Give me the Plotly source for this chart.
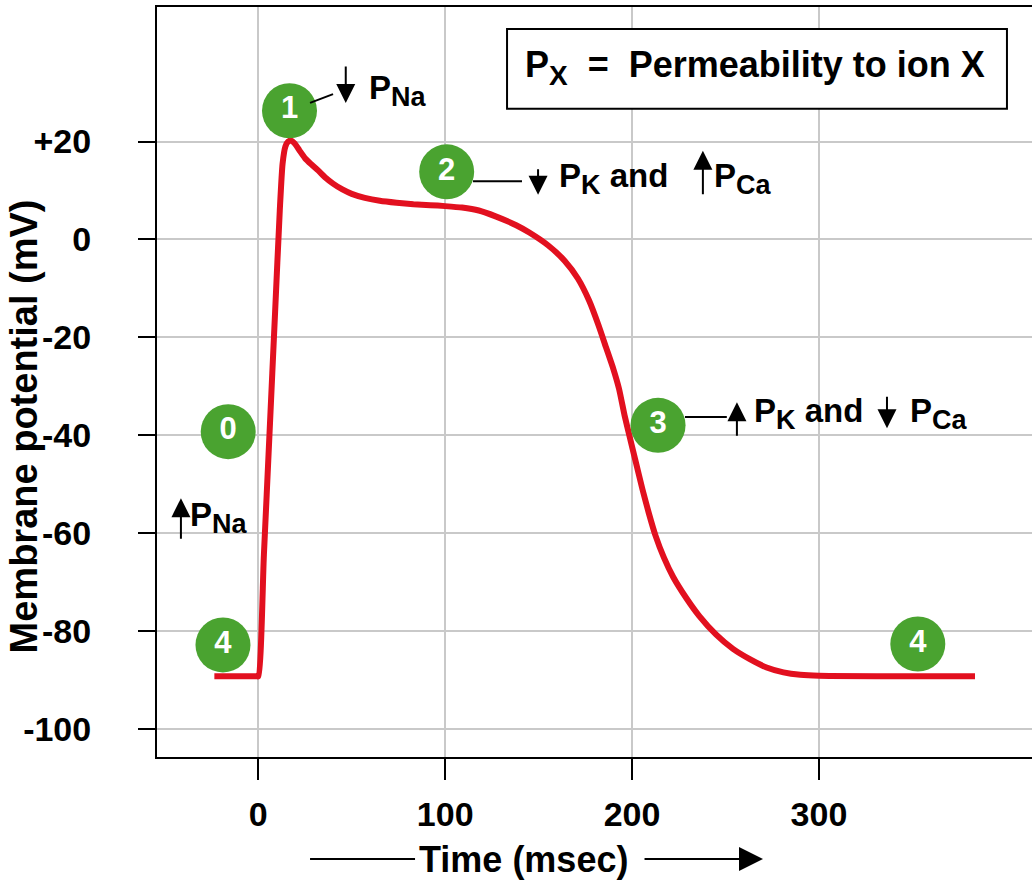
import plotly.graph_objects as go

# ---- data ----
time_ms = [-23.5, -1, 0, 3, 6, 9, 11.5, 13, 14.5, 16, 17.5, 19.5, 22, 25, 28.5, 32, 36, 40, 45, 50,
           57, 65, 74, 83, 92, 100, 109, 118, 127, 138, 145, 155, 164, 171, 177, 182, 186, 190,
           193, 196, 198.5, 202, 205.5, 209, 212.5, 217, 222, 229, 236, 245, 254, 263, 272, 281,
           290, 300, 383.5]
potential_mv = [-89.3, -89.3, -89.3, -64.5, -39.7, -14.8, 5.9, 15.5, 19.0, 20.0, 20.2, 19.6, 18.2, 16.6,
                15.3, 14.1, 12.6, 11.4, 10.2, 9.3, 8.5, 7.9, 7.5, 7.2, 7.0, 6.8, 6.5, 5.9, 4.7,
                2.9, 1.4, -1.2, -4.4, -8.0, -12.5, -17.5, -22.0, -26.5, -30.5, -36.0, -40.0,
                -45.5, -51.0, -56.0, -60.5, -65.0, -69.0, -73.3, -77.0, -80.8, -83.7, -85.8,
                -87.5, -88.5, -89.0, -89.2, -89.3]

phase_labels = ["0", "1", "2", "3", "4", "4"]
phase_x = [-16.1, 16.7, 100.8, 213.9, -18.9, 352.9]
phase_y = [-39.3, 26.3, 13.8, -38.0, -82.9, -82.7]

x_tickvals = [0, 100, 200, 300]
x_ticktext = ["0", "100", "200", "300"]
y_tickvals = [20, 0, -20, -40, -60, -80, -100]
y_ticktext = ["+20", "0", "-20", "-40", "-60", "-80", "-100"]

# ---- styling ----
FONT = "Liberation Sans, Arial, Helvetica, sans-serif"
RED = "#e2101f"
GREEN = "#4aa330"
GRID = "#c9c9c9"

fig = go.Figure()
fig.add_trace(go.Scatter(x=time_ms, y=potential_mv, mode="lines",
                         line=dict(color=RED, width=6, shape="spline", smoothing=0.6),
                         hoverinfo="skip"))
fig.add_trace(go.Scatter(x=phase_x, y=phase_y, mode="markers+text", text=phase_labels,
                         textposition="middle center",
                         textfont=dict(family=FONT, size=31, color="white", weight="bold"),
                         marker=dict(size=55, color=GREEN, line=dict(width=0)),
                         hoverinfo="skip"))

# leader lines from the numbered circles
leaders = [((27.7, 27.9), (40.0, 29.7)),
           ((114.9, 11.9), (141.1, 11.9)),
           ((228.3, -36.3), (250.7, -36.3))]
shapes = []
for (x0, y0), (x1, y1) in leaders:
    shapes.append(dict(type="line", xref="x", yref="y", x0=x0, y0=y0, x1=x1, y1=y1,
                       line=dict(color="black", width=2)))
# legend box
shapes.append(dict(type="rect", xref="x", yref="y", x0=133.1, x1=400.6, y0=26.7, y1=43.0,
                   line=dict(color="black", width=2), fillcolor="white", layer="above"))
# left part of the time-axis arrow
shapes.append(dict(type="line", xref="paper", yref="paper", x0=0.1749, x1=0.2949,
                   y0=-0.136, y1=-0.136, line=dict(color="black", width=2)))

ann = []
# arrows (head position, pixel offset to tail)
arrows = [(46.8, 27.9, -38), (149.7, 9.1, -27), (237.9, 18.1, 45),
          (256.1, -33.3, 35), (336.4, -38.6, -33), (-41.4, -52.9, 42)]
for x, y, ay in arrows:
    ann.append(dict(x=x, y=y, xref="x", yref="y", ax=0, ay=ay, text="", showarrow=True,
                    arrowhead=2, arrowsize=1.9, arrowwidth=2, arrowcolor="black", standoff=0))

tfont = dict(family=FONT, size=33, color="black", weight="bold")
SUB = '<sub><span style="font-size:27px">%s</span></sub>'
texts = [(58.1, 30.4, "P" + SUB % "Na"),
         (159.8, 12.4, "P" + SUB % "K" + " and"),
         (242.7, 12.4, "P" + SUB % "Ca"),
         (264.1, -35.5, "P" + SUB % "K" + " and"),
         (347.6, -35.5, "P" + SUB % "Ca"),
         (-37.6, -56.9, "P" + SUB % "Na")]
for x, y, t in texts:
    ann.append(dict(x=x, y=y, xref="x", yref="y", text=t, showarrow=False,
                    xanchor="left", yanchor="middle", font=tfont))

ann.append(dict(x=266.0, y=35.2, xref="x", yref="y", showarrow=False,
                text='P<sub><span style="font-size:28px">X</span></sub>&nbsp;&nbsp;=&nbsp;&nbsp;Permeability to ion X',
                xanchor="center", yanchor="middle",
                font=dict(family=FONT, size=36, color="black", weight="bold")))

# axis titles
ann.append(dict(x=0.4194, y=-0.136, xref="paper", yref="paper", text="Time (msec)",
                showarrow=False, xanchor="center", yanchor="middle",
                font=dict(family=FONT, size=36, color="black", weight="bold")))
ann.append(dict(x=0.6926, y=-0.136, xref="paper", yref="paper", ax=-120, ay=0, text="",
                showarrow=True, arrowhead=2, arrowsize=2.4, arrowwidth=2,
                arrowcolor="black", standoff=0))
ann.append(dict(x=-0.1509, y=0.4407, xref="paper", yref="paper",
                text="Membrane potential (mV)", textangle=-90, showarrow=False,
                xanchor="center", yanchor="middle",
                font=dict(family=FONT, size=38, color="black", weight="bold")))

fig.update_layout(
    width=1032, height=886,
    margin=dict(l=157, r=0, t=7, b=129, pad=0),
    paper_bgcolor="white", plot_bgcolor="white",
    showlegend=False,
    shapes=shapes, annotations=ann,
    xaxis=dict(range=[-54.2, 414], tickvals=x_tickvals, ticktext=x_ticktext,
               showgrid=True, gridcolor=GRID, gridwidth=1.5, zeroline=False,
               showline=True, linecolor="black", linewidth=2, mirror=True,
               ticks="outside", ticklen=21, tickwidth=2, tickcolor="black",
               ticklabelstandoff=5,
               tickfont=dict(family=FONT, size=34, color="black", weight="bold")),
    yaxis=dict(range=[-105.8, 47.5], tickvals=y_tickvals, ticktext=y_ticktext,
               showgrid=True, gridcolor=GRID, gridwidth=1.5, zeroline=False,
               showline=True, linecolor="black", linewidth=2,
               ticks="outside", ticklen=17, tickwidth=2, tickcolor="black",
               ticklabelstandoff=40,
               tickfont=dict(family=FONT, size=34, color="black", weight="bold")),
)

fig.write_html("out.html", config={"displayModeBar": False},
               post_script="document.body.style.margin='0px';")
